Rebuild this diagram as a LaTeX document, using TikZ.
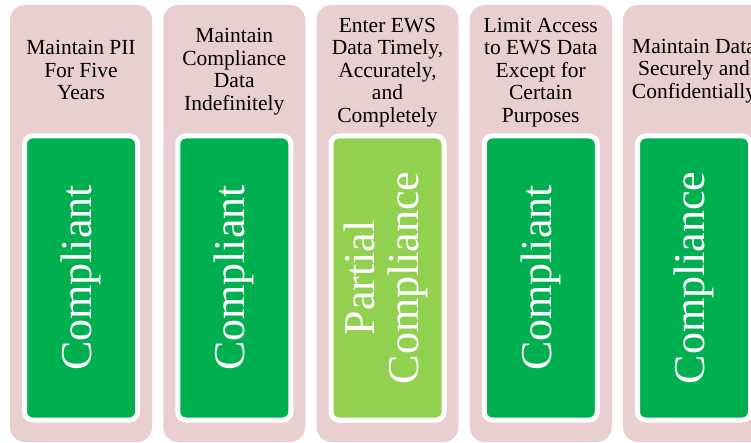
\documentclass[tikz,border=0pt]{standalone}
\usepackage{fontspec}
\setmainfont{Liberation Serif}
\usepackage{tikz}
\definecolor{colpink}{RGB}{233,207,208}
\definecolor{okgreen}{RGB}{0,176,80}
\definecolor{partgreen}{RGB}{146,208,80}

\begin{document}
\begin{tikzpicture}[x=1pt,y=-1pt,
		column/.style={fill=colpink,rounded corners=15pt,
			minimum width=142pt,minimum height=437pt,inner sep=0pt},
		heading/.style={align=center,inner sep=0pt,
			font=\fontsize{21.5}{22.5}\selectfont},
		status/.style={draw=white,line width=5pt,rounded corners=8pt,
			minimum width=113pt,minimum height=284pt,inner sep=0pt,
			text=white,font=\fontsize{44}{43}\selectfont},
		done/.style={status,fill=okgreen},
		part/.style={status,fill=partgreen}]
	\useasboundingbox (0,0) rectangle (751,443);
	\clip (0,0) rectangle (751,443);

	\node[column] (col1) at (81,223.5){};
	\node[heading] (head1) at (81,70){Maintain PII\\For Five\\Years};
	\node[done] (stat1) at (81,278){\rotatebox{90}{Compliant}};

	\node[column] (col2) at (234.25,223.5){};
	\node[heading] (head2) at (234.25,71.5){Maintain\\Compliance\\Data\\Indefinitely};
	\node[done] (stat2) at (234.25,278){\rotatebox{90}{Compliant}};

	\node[column] (col3) at (387.5,223.5){};
	\node[heading] (head3) at (387.5,72.5){Enter EWS\\Data Timely,\\Accurately,\\and\\Completely};
	\node[part] (stat3) at (387.5,278){\rotatebox{90}{\begin{tabular}{@{}c@{}}Partial\\Compliance\end{tabular}}};

	\node[column] (col4) at (540.75,223.5){};
	\node[heading] (head4) at (540.75,72.5){Limit Access\\to EWS Data\\Except for\\Certain\\Purposes};
	\node[done] (stat4) at (540.75,278){\rotatebox{90}{Compliant}};

	\node[column] (col5) at (694,223.5){};
	\node[heading] (head5) at (694,71){Maintain Data\\Securely and\\Confidentially};
	\node[done] (stat5) at (694,278){\rotatebox{90}{Compliance}};

\end{tikzpicture}
\end{document}
